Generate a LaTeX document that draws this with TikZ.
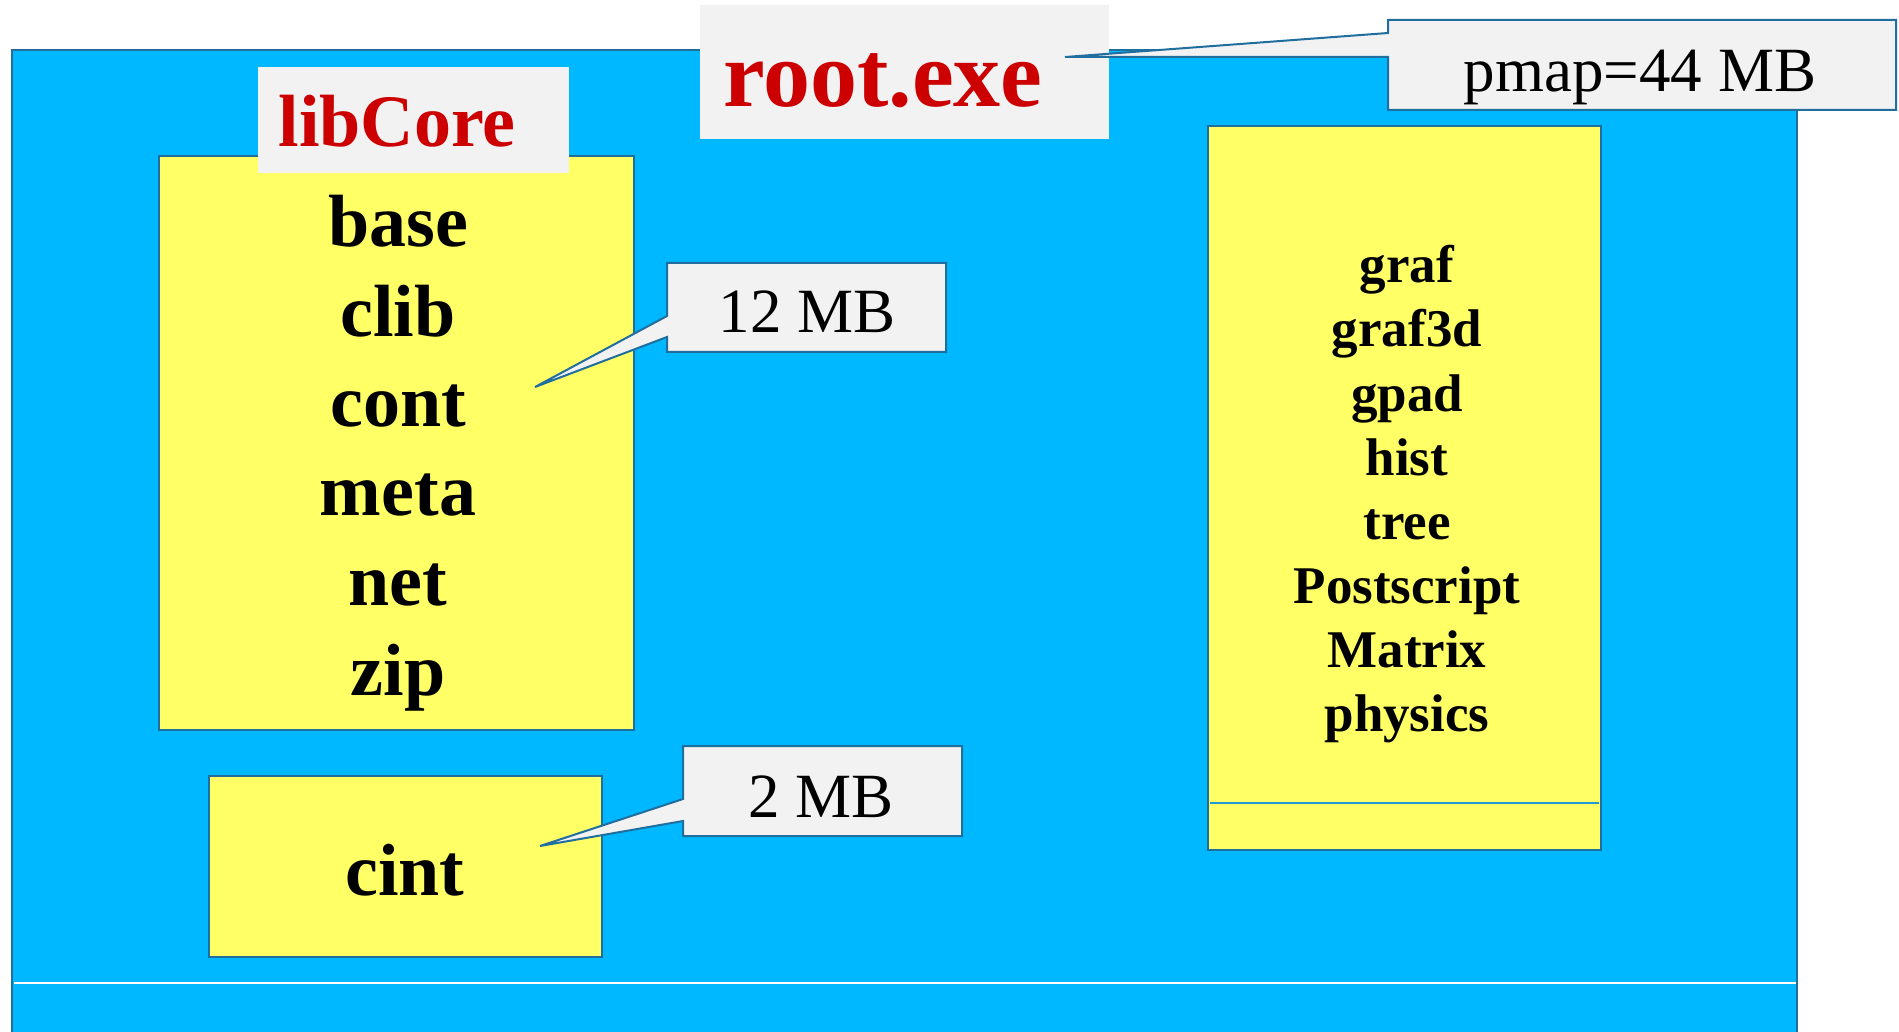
\documentclass[tikz,border=0pt]{standalone}
\usepackage{fontspec}
\setmainfont{Liberation Serif}

\definecolor{procblue}{HTML}{00B8FF}
\definecolor{libyellow}{HTML}{FFFF66}
\definecolor{labelgray}{HTML}{F2F2F2}
\definecolor{edgeblue}{HTML}{1F6E9E}
\definecolor{rulecyan}{HTML}{1E9BD7}
\definecolor{rootred}{HTML}{CC0000}

\begin{document}
\begin{tikzpicture}[x=1pt, y=-1pt,
  libbox/.style={fill=libyellow, draw=edgeblue, line width=2.5pt},
  tagbox/.style={fill=labelgray},
  callout/.style={fill=labelgray, draw=edgeblue, line width=2pt},
  bigitem/.style={anchor=base, inner sep=0pt, font=\fontsize{74}{74}\selectfont\bfseries},
  smallitem/.style={anchor=base, inner sep=0pt, font=\fontsize{53}{53}\selectfont\bfseries},
  sizetext/.style={anchor=base, inner sep=0pt, font=\fontsize{63}{63}\selectfont},
  redtitle/.style={anchor=base, inner sep=0pt, text=rootred, font=\fontsize{#1}{#1}\selectfont\bfseries}]

 \useasboundingbox (0, 0) rectangle (1899, 1032);

 % the process
 \fill[procblue] (12, 50) rectangle (1797, 1032);
 \draw[edgeblue, line width=2.5pt] (12, 1032) -- (12, 50) -- (1797, 50) -- (1797, 1032);
 \draw[white, line width=2pt] (14, 983) -- (1796, 983);

 % libraries
 \draw[libbox] (159, 156) rectangle (634, 730);
 \draw[libbox] (209, 776) rectangle (602, 957);
 \draw[libbox] (1208, 126) rectangle (1601, 850);
 \draw[rulecyan, line width=1.5pt] (1210, 803) -- (1599, 803);

\foreach \lib [count=\i from 0] in {base, clib, cont, meta, net, zip}
{
 \node[bigitem] (core\lib) at (398, {247 + 89.6*\i}) {\lib};
}
 \node[bigitem] (cint) at (405, 895) {cint};

\foreach \lib [count=\i from 0] in {graf, graf3d, gpad, hist, tree, Postscript, Matrix, physics}
{
 \node[smallitem] (gr\lib) at (1407, {283 + 64*\i}) {\lib};
}

 % titles
 \fill[tagbox] (258, 67) rectangle (569, 173);
 \node[redtitle=74] (libcore) at (397, 147) {libCore};
 \fill[tagbox] (700, 5) rectangle (1109, 139);
 \node[redtitle=94] (rootexe) at (883, 107) {root.exe};

 % sizes
 \coordinate (tipcore) at (535, 387);
 \filldraw[callout] (667, 263) -| (946, 352) -| (667, 337) -- (tipcore) -- (667, 316) -- cycle;
 \node[sizetext] (mbcore) at (807, 333) {12 MB};

 \coordinate (tipcint) at (540, 846);
 \filldraw[callout] (683, 746) -| (962, 836) -| (683, 821) -- (tipcint) -- (683, 799) -- cycle;
 \node[sizetext] (mbcint) at (821, 817) {2 MB};

 \coordinate (tipproc) at (1065, 57);
 \filldraw[callout] (1388, 20) -| (1896, 110) -| (1388, 57) -- (tipproc) -- (1388, 33) -- cycle;
 \node[sizetext] (pmap) at (1640, 92) {pmap=44 MB};
\end{tikzpicture}
\end{document}
